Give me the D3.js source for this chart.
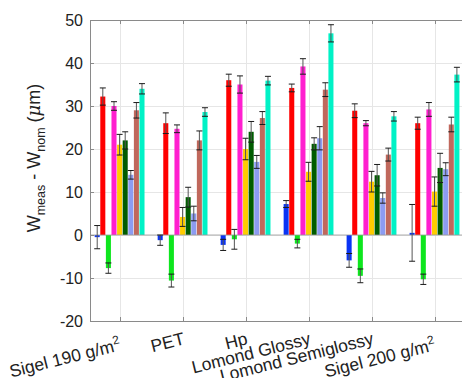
<!DOCTYPE html>
<html>
<head>
<meta charset="utf-8">
<script src="https://cdn.jsdelivr.net/npm/d3@7"></script>
<style>
  body { margin: 0; background: #fff; }
  svg { display: block; font-family: "Liberation Sans", Arial, sans-serif; }
</style>
</head>
<body>
<div id="chart"></div>
<script>
var categories = ["Sigel 190 g/m^2", "PET", "Hp", "Lomond Glossy", "Lomond Semiglossy", "Sigel 200 g/m^2"];
var yTicks = [-20, -10, 0, 10, 20, 30, 40, 50];

// one array per series (mean values), one per series (error half-widths)
var blueVals      = [-0.5, -1.2, -2.3, 7.2, -5.9, 0.5];
var redVals       = [32.2, 26.0, 36.0, 34.2, 28.9, 26.0];
var greenVals     = [-7.7, -10.6, -1.0, -2.0, -9.5, -10.3];
var magentaVals   = [30.0, 24.7, 35.0, 39.2, 26.0, 29.2];
var yellowVals    = [21.0, 4.2, 20.0, 14.7, 12.4, 10.1];
var darkGreenVals = [22.0, 8.8, 24.0, 21.2, 13.9, 15.6];
var lightBlueVals = [14.0, 5.0, 17.0, 22.5, 8.6, 15.3];
var brownVals     = [29.0, 22.0, 27.2, 33.8, 18.7, 25.7];
var cyanVals      = [34.0, 28.6, 35.9, 46.9, 27.6, 37.3];

var blueErr      = [2.7, 1.2, 1.3, 0.8, 1.6, 6.6];
var redErr       = [2.0, 2.4, 1.4, 0.9, 1.6, 1.4];
var greenErr     = [1.2, 1.5, 2.3, 1.0, 1.6, 1.2];
var magentaErr   = [1.0, 0.9, 2.0, 1.8, 0.6, 1.6];
var yellowErr    = [2.4, 2.2, 2.5, 2.2, 2.4, 3.4];
var darkGreenErr = [2.0, 2.3, 2.4, 1.4, 2.5, 3.4];
var lightBlueErr = [1.0, 1.7, 1.5, 2.7, 1.2, 1.5];
var brownErr     = [1.8, 2.2, 1.5, 1.6, 1.5, 1.7];
var cyanErr      = [1.2, 1.0, 1.0, 2.0, 1.1, 1.7];

var seriesVals = [blueVals, redVals, greenVals, magentaVals, yellowVals, darkGreenVals, lightBlueVals, brownVals, cyanVals];
var seriesErr  = [blueErr, redErr, greenErr, magentaErr, yellowErr, darkGreenErr, lightBlueErr, brownErr, cyanErr];
var colors = ["#0a34f5", "#ff0000", "#0ee61e", "#ff1fcf", "#ffcc00", "#005c00", "#8c9cf2", "#c0685c", "#00f2c6"];

var width = 462;
var height = 378;
var pLeft = 90, pTop = 20, pRight = 466, pBottom = 321;

var svg = d3.select("#chart")
            .append("svg")
            .attr("width", width)
            .attr("height", height)
            .style("background", "#fff");

var x = d3.scaleLinear().domain([0.53, 6.5]).range([pLeft, pRight]);
var y = d3.scaleLinear().domain([-20, 50]).range([pBottom, pTop]);

var nSeries = seriesVals.length;
var slot = 0.8 / nSeries;          // group width 0.8 like matlab bar()
var barW = x(slot * 0.9) - x(0);
var capW = 6;

// grid
svg.append("g").selectAll("line")
   .data(yTicks.slice(1, -1))
   .enter().append("line")
   .attr("x1", pLeft).attr("x2", pRight)
   .attr("y1", function(d){ return Math.round(y(d)) + 0.5; })
   .attr("y2", function(d){ return Math.round(y(d)) + 0.5; })
   .attr("stroke", "#e6e6e6");

svg.append("g").selectAll("line")
   .data(categories)
   .enter().append("line")
   .attr("x1", function(d,i){ return Math.round(x(i + 1)) + 0.5; })
   .attr("x2", function(d,i){ return Math.round(x(i + 1)) + 0.5; })
   .attr("y1", pTop).attr("y2", pBottom)
   .attr("stroke", "#e6e6e6");

// flatten to one record per bar
var bars = [];
seriesVals.forEach(function(vals, s){
  vals.forEach(function(v, c){
    bars.push({s: s, c: c, v: v, e: seriesErr[s][c]});
  });
});
function cx(d){ return x(d.c + 1 + (d.s - (nSeries - 1) / 2) * slot); }

svg.append("g").selectAll("rect")
   .data(bars)
   .enter().append("rect")
   .attr("x", function(d){ return cx(d) - barW / 2; })
   .attr("y", function(d){ return y(Math.max(0, d.v)); })
   .attr("width", barW)
   .attr("height", function(d){ return Math.abs(y(d.v) - y(0)); })
   .attr("fill", function(d){ return colors[d.s]; });

// baseline at zero
svg.append("line")
   .attr("x1", pLeft).attr("x2", pRight)
   .attr("y1", y(0)).attr("y2", y(0))
   .attr("stroke", "#9a9a9a").attr("stroke-width", 0.8);

// error bars
var eb = svg.append("g").selectAll("g")
            .data(bars)
            .enter().append("g")
            .attr("stroke", "#1a1a1a")
            .attr("stroke-width", 1);
eb.append("line")
  .attr("x1", cx).attr("x2", cx)
  .attr("y1", function(d){ return y(d.v + d.e); })
  .attr("y2", function(d){ return y(d.v - d.e); })
  .attr("stroke", "#555");
eb.append("line")
  .attr("x1", function(d){ return cx(d) - capW / 2; })
  .attr("x2", function(d){ return cx(d) + capW / 2; })
  .attr("y1", function(d){ return y(d.v + d.e); })
  .attr("y2", function(d){ return y(d.v + d.e); });
eb.append("line")
  .attr("x1", function(d){ return cx(d) - capW / 2; })
  .attr("x2", function(d){ return cx(d) + capW / 2; })
  .attr("y1", function(d){ return y(d.v - d.e); })
  .attr("y2", function(d){ return y(d.v - d.e); });

// box
var axisColor = "#8a8a8a";
svg.append("path")
   .attr("d", "M" + pRight + "," + (pTop + 0.5) + "H" + (pLeft + 0.5) + "V" + (pBottom + 0.5) + "H" + pRight)
   .attr("fill", "none")
   .attr("stroke", axisColor);

// ticks
svg.append("g").selectAll("line")
   .data(categories)
   .enter().append("line")
   .attr("x1", function(d,i){ return Math.round(x(i + 1)) + 0.5; })
   .attr("x2", function(d,i){ return Math.round(x(i + 1)) + 0.5; })
   .attr("y1", pBottom).attr("y2", pBottom - 4)
   .attr("stroke", axisColor);
svg.append("g").selectAll("line")
   .data(categories)
   .enter().append("line")
   .attr("x1", function(d,i){ return Math.round(x(i + 1)) + 0.5; })
   .attr("x2", function(d,i){ return Math.round(x(i + 1)) + 0.5; })
   .attr("y1", pTop).attr("y2", pTop + 4)
   .attr("stroke", axisColor);
svg.append("g").selectAll("line")
   .data(yTicks)
   .enter().append("line")
   .attr("x1", pLeft).attr("x2", pLeft + 4)
   .attr("y1", function(d){ return Math.round(y(d)) + 0.5; })
   .attr("y2", function(d){ return Math.round(y(d)) + 0.5; })
   .attr("stroke", axisColor);

// y tick labels
svg.append("g").selectAll("text")
   .data(yTicks)
   .enter().append("text")
   .attr("x", 83)
   .attr("y", function(d){ return y(d); })
   .attr("dy", "0.36em")
   .attr("text-anchor", "end")
   .attr("font-size", 16)
   .attr("fill", "#222")
   .text(function(d){ return d; });

// x tick labels, rotated, with superscript (top-right corner sits at the tick,
// so labels with a superscript drop a little lower)
var xl = svg.append("g").selectAll("text")
            .data(categories)
            .enter().append("text")
            .attr("transform", function(d,i){
              var sup = d.indexOf("^") >= 0;
              return "translate(" + (x(i + 1) + (sup ? 2 : 3)) + "," + (pBottom + (sup ? 29 : 23)) + ") rotate(-14)";
            })
            .attr("text-anchor", "end")
            .attr("font-size", 17.5)
            .attr("fill", "#222");
xl.each(function(d){
  var t = d3.select(this);
  var parts = d.split("^");
  t.append("tspan").text(parts[0]);
  if (parts.length > 1) {
    t.append("tspan").attr("dy", -7).attr("font-size", 12).text(parts[1]);
  }
});

// y axis label
var yl = svg.append("text")
            .attr("transform", "translate(40,158) rotate(-90)")
            .attr("text-anchor", "middle")
            .attr("font-size", 18)
            .attr("fill", "#222");
yl.append("tspan").text("W");
yl.append("tspan").attr("dy", 5).attr("font-size", 12.5).text("meas");
yl.append("tspan").attr("dy", -5).text(" - W");
yl.append("tspan").attr("dy", 5).attr("font-size", 12.5).text("nom");
yl.append("tspan").attr("dy", -5).text(" (");
yl.append("tspan").attr("font-style", "italic").attr("font-family", "DejaVu Serif, serif").text("\u03bc");
yl.append("tspan").text("m)");
</script>
</body>
</html>
